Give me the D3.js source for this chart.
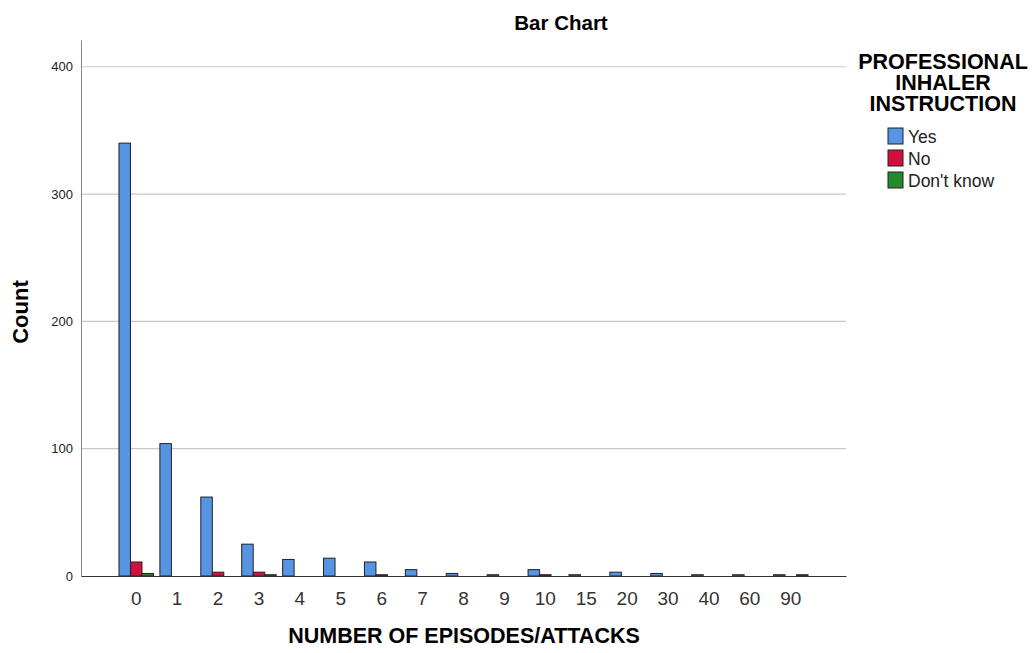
<!DOCTYPE html>
<html>
<head>
<meta charset="utf-8">
<script src="https://cdn.jsdelivr.net/npm/d3@7"></script>
<style>
  body { margin: 0; background: #fff; }
  svg { display: block; font-family: Arial, "Liberation Sans", sans-serif; }
</style>
</head>
<body>
<svg id="chart" width="1032" height="653"></svg>
<script>
const categories = ['0', '1', '2', '3', '4', '5', '6', '7', '8', '9', '10', '15', '20', '30', '40', '60', '90'];
const seriesNames = ['Yes', 'No', "Don't know"];
const yesCounts      = [340, 104, 62, 25, 13, 14, 11, 5, 2, 1, 5, 1, 3, 2, 1, 1, 1];
const noCounts       = [11, 0, 3, 3, 0, 0, 1, 0, 0, 0, 1, 0, 0, 0, 0, 0, 0];
const dontKnowCounts = [2, 0, 0, 1, 0, 0, 0, 0, 0, 0, 0, 0, 0, 0, 0, 0, 1];
const yTicks = [0, 100, 200, 300, 400];
const colors = ['#5595e3', '#d3103c', '#248a2c'];

const svg = d3.select('#chart');
const plot = { left: 81, right: 846, top: 40, bottom: 576 };

const x = d3.scaleBand()
    .domain(categories)
    .range([plot.left, plot.right])
    .paddingInner(0)
    .paddingOuter(0.85);

const groupW = 34.5;
const x1 = d3.scaleBand()
    .domain(seriesNames)
    .range([(x.bandwidth() - groupW) / 2, (x.bandwidth() + groupW) / 2]);

const y = d3.scaleLinear().domain([0, 421]).range([plot.bottom, plot.top]);

// gridlines
svg.append('g')
    .selectAll('line')
    .data(yTicks.filter(t => t > 0))
    .join('line')
    .attr('x1', plot.left).attr('x2', plot.right)
    .attr('y1', d => y(d)).attr('y2', d => y(d))
    .attr('stroke', '#c8c8c8')
    .attr('stroke-width', 1.2);

// y axis
const yAxis = svg.append('g')
    .attr('transform', `translate(${plot.left},0)`)
    .call(d3.axisLeft(y).tickValues(yTicks).tickSize(0).tickPadding(8));
yAxis.select('.domain').attr('stroke', '#888');
yAxis.selectAll('text').attr('font-size', 13).attr('fill', '#222')
    .attr('font-family', 'Arial, "Liberation Sans", sans-serif');

// bars
const rows = categories.map((c, i) => ({
  cat: c,
  vals: [yesCounts[i], noCounts[i], dontKnowCounts[i]]
}));

const groups = svg.append('g')
    .selectAll('g')
    .data(rows)
    .join('g')
    .attr('transform', d => `translate(${x(d.cat)},0)`);

groups.selectAll('rect')
    .data(d => d.vals.map((v, k) => ({ name: seriesNames[k], v, k })).filter(e => e.v > 0))
    .join('rect')
    .attr('x', d => x1(d.name))
    .attr('width', x1.bandwidth())
    .attr('y', d => y(d.v))
    .attr('height', d => y(0) - y(d.v))
    .attr('fill', d => colors[d.k])
    .attr('stroke', '#222')
    .attr('stroke-width', 1);

// x axis
const xAxis = svg.append('g')
    .attr('transform', `translate(0,${plot.bottom})`)
    .call(d3.axisBottom(x).tickSize(0).tickPadding(15.5).tickSizeOuter(0));
xAxis.select('.domain').attr('stroke', '#333').attr('stroke-width', 1.2);
xAxis.selectAll('text').attr('font-size', 19).attr('fill', '#333')
    .attr('font-family', 'Arial, "Liberation Sans", sans-serif');

// titles
svg.append('text')
    .attr('x', 561).attr('y', 30)
    .attr('text-anchor', 'middle')
    .attr('font-size', 20.5).attr('font-weight', 'bold')
    .text('Bar Chart');

svg.append('text')
    .attr('transform', `translate(28,312) rotate(-90)`)
    .attr('text-anchor', 'middle')
    .attr('font-size', 22).attr('font-weight', 'bold')
    .text('Count');

svg.append('text')
    .attr('x', 464).attr('y', 643)
    .attr('text-anchor', 'middle')
    .attr('font-size', 21.5).attr('font-weight', 'bold')
    .text('NUMBER OF EPISODES/ATTACKS');

// legend
const legendTitle = ['PROFESSIONAL', 'INHALER', 'INSTRUCTION'];
svg.append('g')
    .selectAll('text')
    .data(legendTitle)
    .join('text')
    .attr('x', 943)
    .attr('y', (d, i) => 69 + i * 21)
    .attr('text-anchor', 'middle')
    .attr('font-size', 21.5).attr('font-weight', 'bold')
    .text(d => d);

const legend = svg.append('g')
    .selectAll('g')
    .data(seriesNames)
    .join('g')
    .attr('transform', (d, i) => `translate(888,${128 + i * 22})`);

legend.append('rect')
    .attr('width', 15).attr('height', 16)
    .attr('fill', (d, i) => colors[i])
    .attr('stroke', '#222');

legend.append('text')
    .attr('x', 20).attr('y', 15)
    .attr('font-size', 17.5).attr('fill', '#222')
    .text(d => d);
</script>
</body>
</html>
